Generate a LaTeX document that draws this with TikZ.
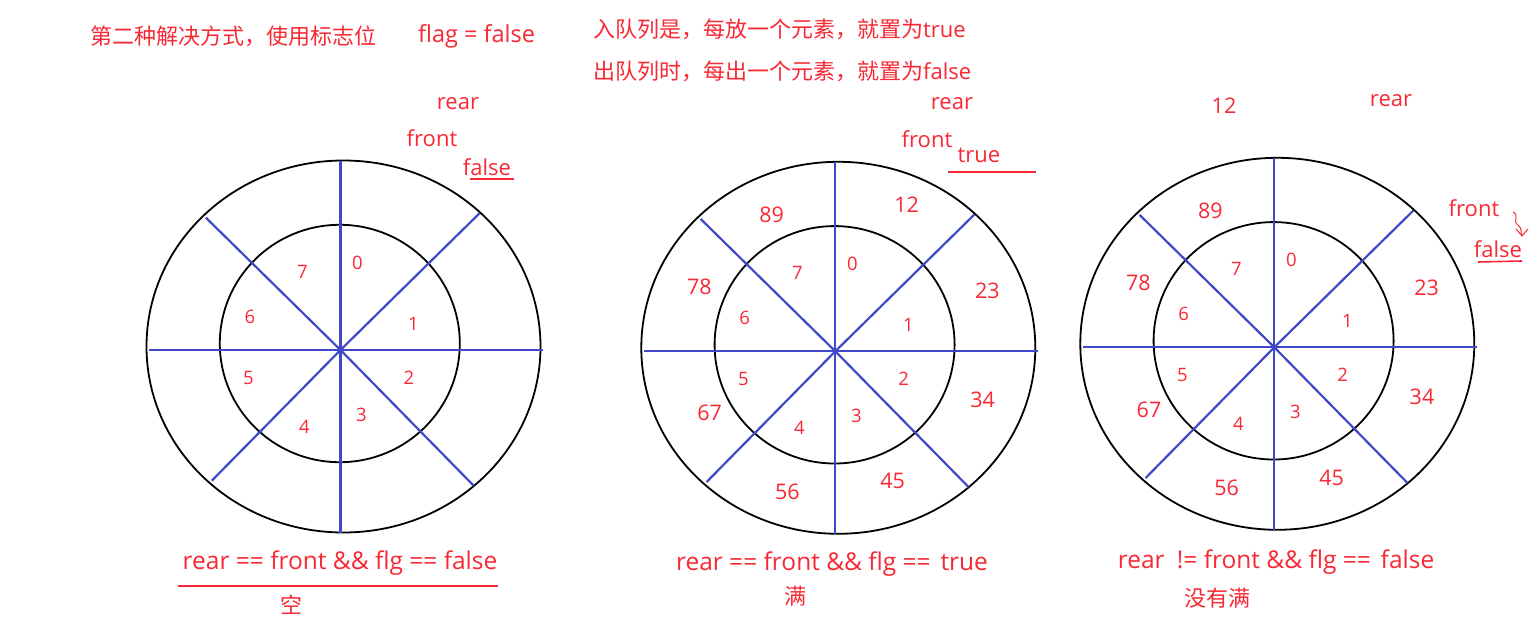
\documentclass[tikz,border=0pt]{standalone}
\usepackage{fontspec}
\setmainfont{Open Sans}
\newfontfamily\cjk{Noto Sans CJK SC}
\definecolor{tred}{RGB}{248,40,52}
\definecolor{lblue}{RGB}{62,72,200}
\tikzset{
 lab/.style={text=tred, inner sep=0pt, font=\fontsize{22}{26}\selectfont},
 cond/.style={text=tred, inner sep=0pt, font=\fontsize{24.5}{28}\selectfont},
 inum/.style={text=tred, inner sep=0pt, font=\fontsize{18.5}{22}\selectfont},
 onum/.style={text=tred, inner sep=0pt, font=\fontsize{21.5}{25}\selectfont},
 ring/.style={draw=black, line width=1.8pt},
 spoke/.style={draw=lblue, line width=2.2pt},
 uline/.style={draw=tred, line width=1.6pt},
}
\newcommand\wheel[3]{%
\begin{scope}[shift={(#2,#3)}]
 \draw[ring] (3,-3.5) ellipse [x radius=197pt, y radius=186pt];
 \draw[ring] (-0.7,-6.5) ellipse [x radius=120pt, y radius=118.7pt];
 \coordinate (#1c) at (0,0);
 \coordinate (#1n) at (0,-189);
 \coordinate (#1s) at (0,182.5);
 \coordinate (#1w) at (-191.5,0);
 \coordinate (#1e) at (202.5,0);
 \coordinate (#1nw) at (-134.6,-132.3);
 \coordinate (#1ne) at (139,-136.7);
 \coordinate (#1sw) at (-128.7,130.7);
 \coordinate (#1se) at (133.3,135.8);
 \foreach \d in {n,s,w,e,nw,ne,sw,se} \draw[spoke] (#1c) -- (#1\d);
 \foreach \k/\px/\py in {0/17/-87, 7/-38/-78.6, 6/-90.6/-33.6, 1/73/-26.3, 5/-92/28, 2/68.4/28, 3/21/65, 4/-36/77}
   \node[inum] (#1i\k) at (\px,\py) {\k};
\end{scope}}
\begin{document}
\begin{tikzpicture}[x=1pt,y=-1pt]
\useasboundingbox (0,0) rectangle (1540,617);
\fill[white] (0,0) rectangle (1540,617);

% top texts
\node[lab, anchor=west] (title) at (90,36) {{\cjk 第二种解决方式，使用标志位}};
\node[lab, anchor=west, font=\fontsize{23.5}{27}\selectfont] (flag) at (418,36) {flag = false};
\node[lab, anchor=west] (enq) at (593,29) {{\cjk 入队列是，每放一个元素，就置为}true};
\node[lab, anchor=west] (deq) at (593,71) {{\cjk 出队列时，每出一个元素，就置为}false};

% wheels
\wheel{a}{340.5}{350}
\wheel{b}{835.3}{351.3}
\wheel{c}{1274.3}{347.3}

% outer numbers wheel 2
\begin{scope}[shift={(835.3,351.3)}]
\foreach \k/\px/\py in {12/71.4/-147, 89/-63.6/-136.3, 78/-136/-64.6, 23/152/-60.3, 67/-125.6/62, 34/147.4/48.7, 56/-48/140.4, 45/57.4/129.7}
  \node[onum] (bo\k) at (\px,\py) {\k};
\end{scope}
% outer numbers wheel 3
\begin{scope}[shift={(1274.3,347.3)}]
\foreach \k/\px/\py in {89/-64/-136.3, 78/-136/-64, 23/152.4/-59, 67/-125.3/62.7, 34/147.7/49.4, 56/-47.6/141, 45/57.4/130.4}
  \node[onum] (co\k) at (\px,\py) {\k};
\end{scope}

% wheel 1 pointers
\node[lab] (arear) at (458,104) {rear};
\node[lab] (afront) at (432,138) {front};
\node[lab] (afalse) at (487,167) {false};
\coordinate (au1) at (470,179);
\coordinate (au2) at (514,179);
\draw[uline] (au1) -- (au2);

% wheel 2 pointers
\node[lab] (brear) at (952,104) {rear};
\node[lab] (bfront) at (927,139) {front};
\node[lab] (btrue) at (979,155) {true};
\coordinate (bu1) at (948,172);
\coordinate (bu2) at (1036,172);
\draw[uline] (bu1) -- (bu2);

% wheel 3 pointers
\node[onum] (c12) at (1224,106) {12};
\node[lab] (crear) at (1391,101) {rear};
\node[lab] (cfront) at (1474,208) {front};
\node[lab] (cfalse) at (1498,249) {false};
\coordinate (cu1) at (1478,262);
\coordinate (cu2) at (1522,261);
\draw[uline] (cu1) -- (cu2);
\coordinate (sq1) at (1513,212);
\coordinate (sq2) at (1522,236);
\draw[tred, line width=1pt] (sq1) .. controls (1520,215) and (1512,221) .. (1518,225) .. controls (1523,229) and (1520,232) .. (sq2);
\draw[tred, line width=1pt] (1516,229) -- (sq2) -- (1528,229);

% bottom conditions
\node[cond] (cond1) at (340,563) {rear == front \&\& flg == false};
\coordinate (du1) at (178,586);
\coordinate (du2) at (498,586);
\draw[uline] (du1) -- (du2);
\node[lab] (empty) at (291,605) {\cjk 空};

\node[cond] (cond2) at (832,564) {rear == front \&\& flg ==\hspace{0.4em}true};
\node[lab] (full) at (795,596) {\cjk 满};

\node[cond] (cond3) at (1276,562) {rear\hspace{0.5em}!= front \&\& flg ==\hspace{0.4em}false};
\node[lab] (notfull) at (1217,598) {\cjk 没有满};
\end{tikzpicture}
\end{document}
